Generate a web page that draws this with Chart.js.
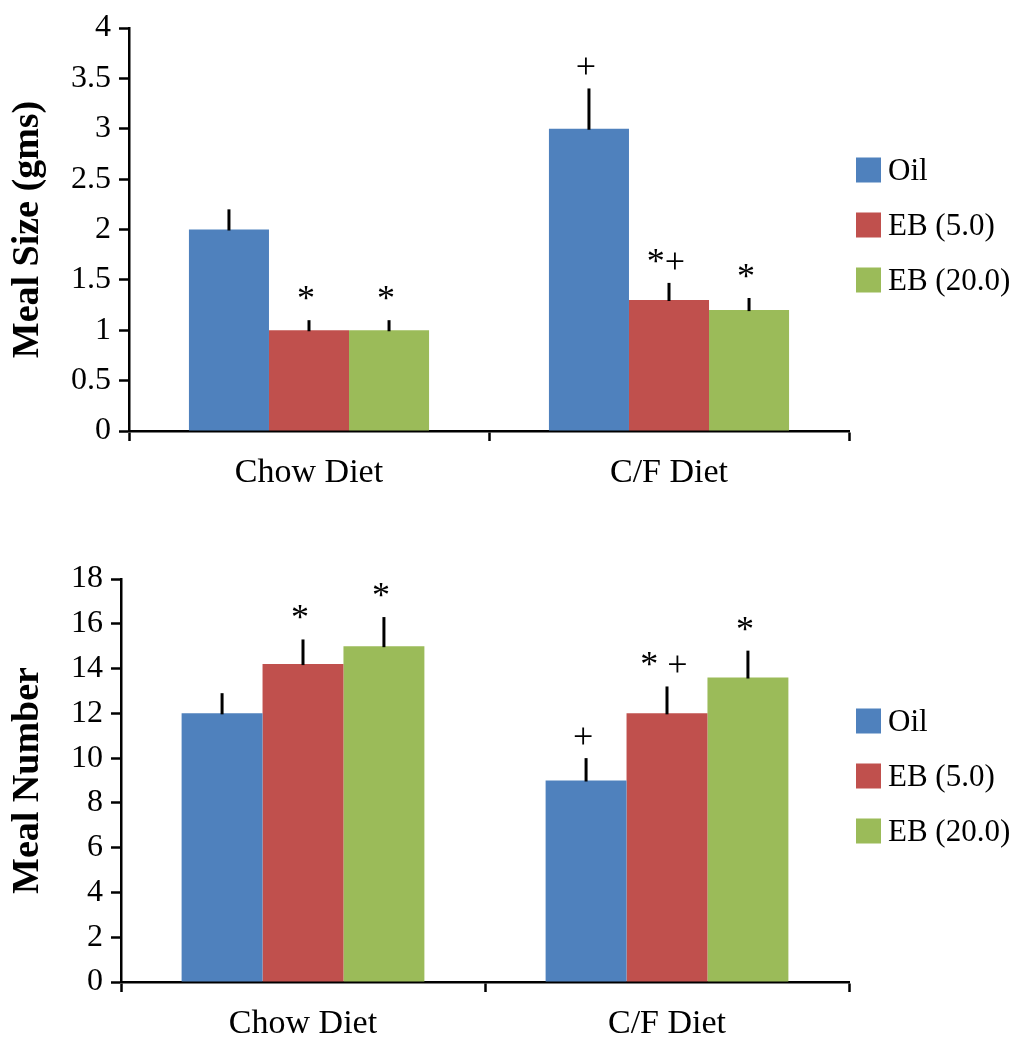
<!DOCTYPE html>
<html>
<head>
<meta charset="utf-8">
<script src="https://cdn.jsdelivr.net/npm/chart.js@4/dist/chart.umd.min.js"></script>
<style>
	body { margin: 0; background: #fff; }
	canvas { position: absolute; left: 0; }
	#sizeChart { top: 0; }
	#numberChart { top: 520px; }
</style>
</head>
<body>
<canvas id="sizeChart" width="1021" height="510"></canvas>
<canvas id="numberChart" width="1021" height="530"></canvas>
<script>
'use strict';

const diets = ['Chow Diet', 'C/F Diet'];
const groups = ['Oil', 'EB (5.0)', 'EB (20.0)'];
const groupColors = ['#4F81BD', '#C0504D', '#9BBB59'];

// meal size (gms)
const sizeOil = [2.0, 3.0];
const sizeEb5 = [1.0, 1.3];
const sizeEb20 = [1.0, 1.2];
const sizeOilErr = [0.2, 0.4];
const sizeEb5Err = [0.1, 0.17];
const sizeEb20Err = [0.1, 0.12];
const sizeOilNotes = ['', '+'];
const sizeEb5Notes = ['*', '*+'];
const sizeEb20Notes = ['*', '*'];

// meal number
const numberOil = [12.0, 9.0];
const numberEb5 = [14.2, 12.0];
const numberEb20 = [15.0, 13.6];
const numberOilErr = [0.9, 1.0];
const numberEb5Err = [1.1, 1.2];
const numberEb20Err = [1.3, 1.2];
const numberOilNotes = ['', '+'];
const numberEb5Notes = ['*', '* +'];
const numberEb20Notes = ['*', '*'];

const serif = '"Liberation Serif", "Times New Roman", serif';

// upward error bars plus the significance marks above them
const errorBarPlugin = {
	id: 'errorBars',
	afterDatasetsDraw(chart) {
		const ctx = chart.ctx;
		const yScale = chart.scales.y;
		ctx.save();
		chart.data.datasets.forEach((ds, i) => {
			chart.getDatasetMeta(i).data.forEach((bar, j) => {
				const top = yScale.getPixelForValue(ds.data[j] + ds.errors[j]);
				ctx.strokeStyle = '#000';
				ctx.lineWidth = 3;
				ctx.beginPath();
				ctx.moveTo(bar.x, bar.y + 1);
				ctx.lineTo(bar.x, top);
				ctx.stroke();
				if (ds.notes[j]) {
					ctx.fillStyle = '#000';
					ctx.font = '36px ' + serif;
					ctx.textAlign = 'center';
					ctx.textBaseline = 'alphabetic';
					ctx.fillText(ds.notes[j], bar.x - 3, top - 10);
				}
			});
		});
		ctx.restore();
	},
};

// legend to the right of the plot, centred on the plot height
const sideLegendPlugin = {
	id: 'sideLegend',
	afterDraw(chart) {
		const ctx = chart.ctx;
		const area = chart.chartArea;
		const mid = (area.top + area.bottom) / 2;
		ctx.save();
		chart.data.datasets.forEach((ds, i) => {
			const x = area.right + 7;
			const y = mid - 72 + i * 55;
			ctx.fillStyle = ds.backgroundColor;
			ctx.fillRect(x, y, 25, 25);
			ctx.fillStyle = '#000';
			ctx.font = '31px ' + serif;
			ctx.textAlign = 'left';
			ctx.textBaseline = 'middle';
			ctx.fillText(ds.label, x + 32, y + 14);
		});
		ctx.restore();
	},
};

function makeDatasets(values, errors, notes) {
	return groups.map((label, i) => ({
		label,
		data: values[i],
		errors: errors[i],
		notes: notes[i],
		backgroundColor: groupColors[i],
		borderWidth: 0,
		categoryPercentage: 0.667,
		barPercentage: 1.0,
	}));
}

function displayGraph({ canvasId, datasets, yTitle, yMax, yStep, axisLeft, areaTop, xHeight }) {
	const ctx = document.getElementById(canvasId).getContext('2d');
	return new Chart(ctx, {
		type: 'bar',
		data: {
			labels: diets,
			datasets,
		},
		options: {
			responsive: false,
			animation: false,
			devicePixelRatio: 1,
			layout: {
				padding: { top: areaTop, right: 172, bottom: 0, left: 0 },
			},
			plugins: {
				legend: { display: false },
				tooltip: { enabled: false },
			},
			scales: {
				x: {
					ticks: {
						color: '#000',
						font: { family: serif, size: 34 },
						padding: 12,
						maxRotation: 0,
					},
					grid: {
						drawOnChartArea: false,
						tickLength: 10,
						tickColor: '#000',
						tickWidth: 2.5,
						offset: true,
					},
					border: { color: '#000', width: 2.5 },
					afterFit(scale) {
						scale.height = xHeight;
						scale.paddingLeft = 0;
						scale.paddingRight = 0;
					},
				},
				y: {
					min: 0,
					max: yMax,
					ticks: {
						stepSize: yStep,
						color: '#000',
						font: { family: serif, size: 32 },
						padding: 8,
						callback: (value) => String(value),
					},
					grid: {
						drawOnChartArea: false,
						tickLength: 10,
						tickColor: '#000',
						tickWidth: 2.5,
					},
					border: { color: '#000', width: 2.5 },
					title: {
						display: true,
						text: yTitle,
						color: '#000',
						font: { family: serif, size: 38, weight: 'bold' },
						padding: { top: 5, bottom: 0 },
					},
					afterFit(scale) {
						scale.width = axisLeft;
						scale.paddingTop = 0;
						scale.paddingBottom = 0;
					},
				},
			},
		},
		plugins: [errorBarPlugin, sideLegendPlugin],
	});
}

displayGraph({
	canvasId: 'sizeChart',
	datasets: makeDatasets(
		[sizeOil, sizeEb5, sizeEb20],
		[sizeOilErr, sizeEb5Err, sizeEb20Err],
		[sizeOilNotes, sizeEb5Notes, sizeEb20Notes]
	),
	yTitle: 'Meal Size (gms)',
	yMax: 4,
	yStep: 0.5,
	axisLeft: 129,
	areaTop: 28,
	xHeight: 79,
});

displayGraph({
	canvasId: 'numberChart',
	datasets: makeDatasets(
		[numberOil, numberEb5, numberEb20],
		[numberOilErr, numberEb5Err, numberEb20Err],
		[numberOilNotes, numberEb5Notes, numberEb20Notes]
	),
	yTitle: 'Meal Number',
	yMax: 18,
	yStep: 2,
	axisLeft: 121,
	areaTop: 59,
	xHeight: 68,
});
</script>
</body>
</html>
